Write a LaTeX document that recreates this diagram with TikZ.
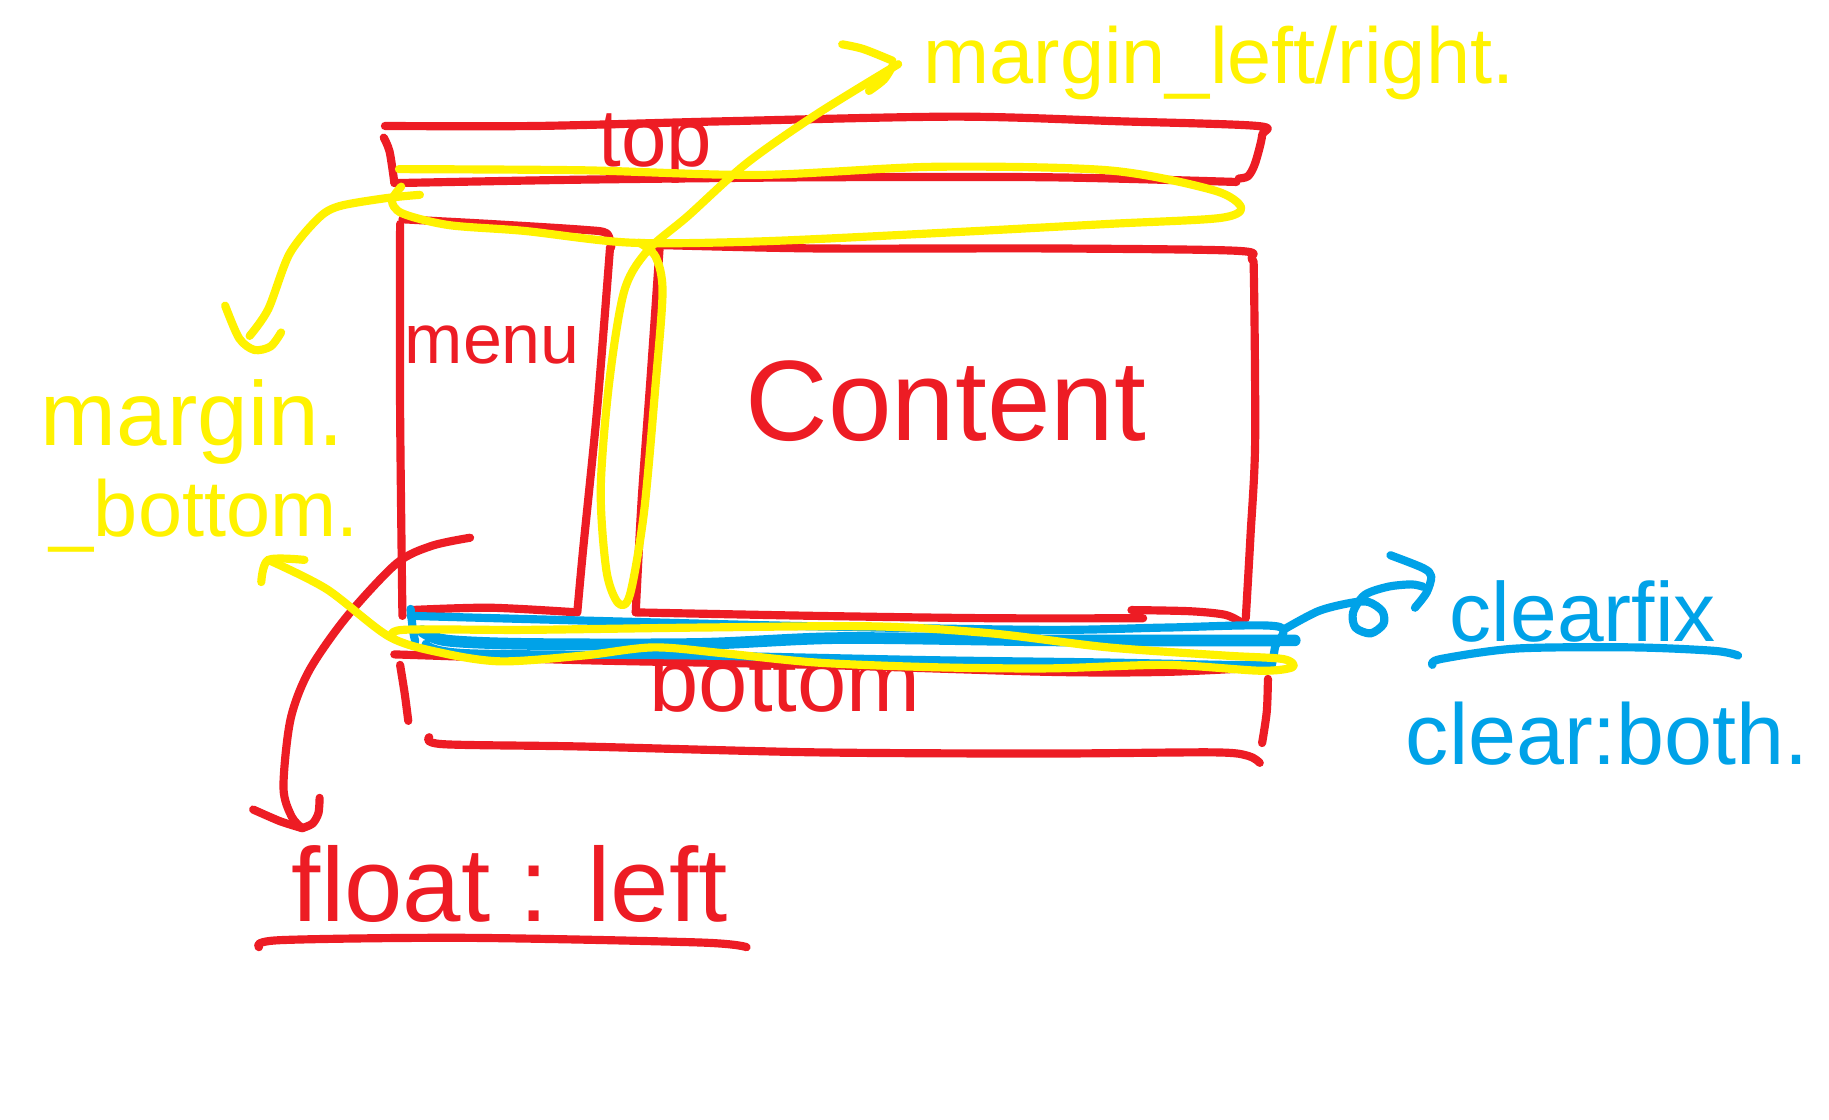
\documentclass[tikz,border=0pt]{standalone}
\usepackage{fontspec}
\setmainfont{Liberation Sans}
\definecolor{pr}{RGB}{237,28,36}
\definecolor{py}{RGB}{255,242,0}
\definecolor{pb}{RGB}{0,162,232}
\newcommand{\fs}[1]{\fontsize{#1}{#1}\selectfont}
\begin{document}
\begin{tikzpicture}[x=1pt,y=-1pt, line cap=round, line join=round,
  pen/.style={line width=7pt},
  rpen/.style={pen, draw=pr},
  ypen/.style={pen, draw=py},
  bpen/.style={pen, draw=pb},
  lbl/.style={anchor=base, inner sep=0pt}]
\useasboundingbox[fill=white] (0,0) rectangle (1568,960);

% ---------- red boxes ----------
% top box
\draw[rpen] plot[smooth,tension=0.5] coordinates {(330,108) (460,108) (620,104) (820,100) (960,104) (1078,108) (1082,116) (1076,140) (1070,151) (1062,153)};
\draw[rpen] plot[smooth,tension=0.5] coordinates {(329,118) (334,130) (338,156)};
\draw[rpen] plot[smooth,tension=0.5] coordinates {(338,157) (500,154) (700,152) (900,152) (1060,156)};
% menu box
\draw[rpen] plot[smooth,tension=0.5] coordinates {(345,188) (420,192) (500,197) (520,200) (524,212)};
\draw[rpen] plot[smooth,tension=0.5] coordinates {(343,192) (343,350) (345,528)};
\draw[rpen] plot[smooth,tension=0.5] coordinates {(523,212) (512,350) (500,470) (495,524)};
\draw[rpen] plot[smooth,tension=0.5] coordinates {(352,523) (420,521) (495,525)};
% content box
\draw[rpen] plot[smooth,tension=0.5] coordinates {(563,210) (700,213) (900,213) (1060,215) (1073,222) (1075,240) (1076,380) (1072,460) (1068,530)};
\draw[rpen] plot[smooth,tension=0.5] coordinates {(566,205) (558,320) (550,430) (545,525)};
\draw[rpen] plot[smooth,tension=0.5] coordinates {(545,525) (700,528) (850,530) (980,530)};
\draw[rpen] plot[smooth,tension=0.5] coordinates {(970,523) (1020,524) (1050,527) (1063,533)};
% bottom box
\draw[rpen] plot[smooth,tension=0.5] coordinates {(338,561) (500,566) (700,570) (900,576) (1000,576) (1085,572)};
\draw[rpen] plot[smooth,tension=0.5] coordinates {(343,570) (347,595) (350,618)};
\draw[rpen] plot[smooth,tension=0.5] coordinates {(368,632) (380,638) (500,640) (700,645) (900,646) (1040,645) (1070,648) (1080,654)};
\draw[rpen] plot[smooth,tension=0.5] coordinates {(1087,582) (1086,610) (1082,637)};

% ---------- texts ----------
\node[lbl, text=pr, font=\fs{70}] (top) at (562,143) {top};
\node[lbl, text=pr, font=\fs{60}] (menu) at (422,312) {menu};
\node[lbl, text=pr, font=\fs{98}] (content) at (811,378) {Content};
\node[lbl, text=pr, font=\fs{76}] (bottom) at (673,610) {bottom};
\node[lbl, text=pr, font=\fs{90}] (float) at (437,790) {float : left};
\node[lbl, text=py, font=\fs{68}] (mlr) at (1045,72) {margin\_left/right.};
\node[lbl, text=py, font=\fs{78}] (mb1) at (165,382) {margin.};
\node[lbl, text=py, font=\fs{68}] (mb2) at (175,460) {\_bottom.};
\node[lbl, text=pb, font=\fs{72}] (cf) at (1357,550) {clearfix};
\node[lbl, text=pb, font=\fs{74}] (cb) at (1378,655) {clear:both.};

% ---------- red float arrow ----------
\draw[rpen] plot[smooth,tension=0.5] coordinates {(403,461) (370,468) (340,483) (297,529) (265,575) (249,617) (243,675) (250,700) (259,710)};
\draw[rpen] plot[smooth,tension=0.4] coordinates {(217,694) (240,704) (259,710)};
\draw[rpen] plot[smooth,tension=0.5] coordinates {(259,710) (268,706) (273,697) (274,684)};
\draw[rpen] plot[smooth,tension=0.5] coordinates {(222,812) (240,806) (400,804) (600,808) (640,812)};

% ---------- blue clearfix ----------
\draw[bpen] plot[smooth,tension=0.5] coordinates {(352,522) (354,540) (356,550)};
\draw[bpen] plot[smooth,tension=0.5] coordinates {(352,528) (500,532) (700,537) (900,540) (1000,538) (1095,537) (1093,555) (1090,572)};
\draw[bpen, line width=10pt] plot[smooth,tension=0.5] coordinates {(362,541) (382,549) (450,552) (600,552) (720,547) (900,549) (1110,549)};
\draw[bpen] plot[smooth,tension=0.5] coordinates {(365,552) (400,560) (600,562) (800,566) (950,568) (1050,570) (1090,570)};
\draw[bpen] plot[smooth,tension=0.5] coordinates {(1100,540) (1130,524) (1157,517) (1173,516) (1185,524) (1186,535) (1175,543) (1162,538) (1160,525) (1170,510) (1190,503) (1210,501) (1220,503)};
\draw[bpen] plot[smooth,tension=0.5] coordinates {(1192,476) (1220,487) (1227,494) (1223,508) (1213,521)};
\draw[bpen] plot[smooth,tension=0.5] coordinates {(1228,570) (1235,565) (1300,556) (1400,555) (1470,558) (1490,562)};

% ---------- yellow ----------
\draw[ypen] plot[smooth,tension=0.5] coordinates {(342,145) (500,146) (650,150) (800,143) (950,146) (1040,163) (1064,178) (1045,187) (950,192) (800,200) (650,207) (540,208) (450,198) (385,193) (345,183) (336,172) (344,160)};
\draw[ypen] plot[smooth,tension=0.5] coordinates {(360,167) (330,170) (290,177) (272,188) (248,218) (230,265) (214,288)};
\draw[ypen] plot[smooth,tension=0.5] coordinates {(193,262) (205,290) (218,300) (232,297) (241,285)};
\draw[ypen] plot[smooth,tension=0.5] coordinates {(770,55) (700,98) (640,140) (590,185) (555,215) (535,250) (522,330) (515,420) (520,490) (530,517) (540,510) (552,440) (562,330) (568,250) (562,220) (548,208)};
\draw[ypen] plot[smooth,tension=0.5] coordinates {(722,38) (740,42) (765,52)};
\draw[ypen] plot[smooth,tension=0.5] coordinates {(766,55) (758,68) (745,78)};
\draw[ypen] plot[smooth,tension=0.5] coordinates {(224,499) (230,480) (261,480)};
\draw[ypen] plot[smooth,tension=0.5] coordinates {(230,480) (280,505) (334,546) (380,560) (430,567) (500,562) (560,555) (620,560) (700,568) (800,572) (900,573) (1000,570) (1080,575) (1108,572) (1100,565) (1050,562) (950,555) (850,543) (750,537) (600,538) (450,540) (345,540) (338,548)};
\end{tikzpicture}
\end{document}
